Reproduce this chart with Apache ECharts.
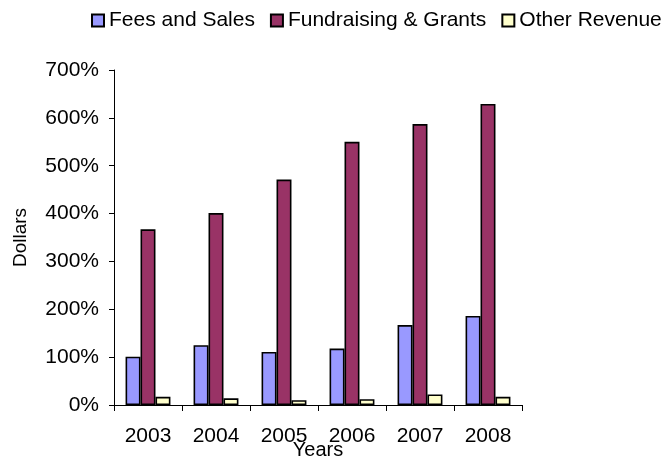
<!DOCTYPE html>
<html>
<head>
<meta charset="utf-8">
<script src="https://cdn.jsdelivr.net/npm/echarts@6/dist/echarts.min.js"></script>
<style>
  html, body { margin: 0; padding: 0; background: #fff; }
  #chart { width: 672px; height: 459px; }
</style>
</head>
<body>
<div id="chart"></div>
<script>
// Revenue sources by year, in percent
const years = ['2003', '2004', '2005', '2006', '2007', '2008'];
const feesAndSales = [101, 125, 111, 118, 167, 186];
const fundraisingGrants = [367, 401, 471, 550, 587, 629];
const otherRevenue = [17, 14, 10, 12, 22, 17];
const yTicks = { min: 0, max: 700, interval: 100 };

const font = 'Liberation Sans, Arial, sans-serif';

function barSeries(name, data, color) {
  return {
    name: name,
    type: 'bar',
    data: data,
    barGap: '0%',
    barCategoryGap: '34%',
    itemStyle: { color: color, borderColor: '#000', borderWidth: 1.6 },
    emphasis: { disabled: true }
  };
}

const chart = echarts.init(document.getElementById('chart'), null, { renderer: 'canvas' });
chart.setOption({
  animation: false,
  backgroundColor: '#fff',
  textStyle: { fontFamily: font, color: '#000' },
  legend: {
    left: 91,
    top: 10,
    padding: 0,
    itemWidth: 12,
    itemHeight: 12,
    itemGap: 15,
    icon: 'rect',
    textStyle: { fontFamily: font, fontSize: 21, color: '#000' },
    data: ['Fees and Sales', 'Fundraising & Grants', 'Other Revenue']
  },
  grid: {
    left: 114, right: 150, top: 70, bottom: 54,
    containLabel: false,
    outerBoundsMode: 'none'
  },
  xAxis: {
    type: 'category',
    data: years,
    name: 'Years',
    nameLocation: 'middle',
    nameGap: 35,
    nameMoveOverlap: false,
    nameTextStyle: { fontFamily: font, fontSize: 20, color: '#000' },
    axisLine: { lineStyle: { color: '#000', width: 1 } },
    axisTick: { show: true, length: 6, lineStyle: { color: '#000' } },
    axisLabel: { fontFamily: font, fontSize: 21, color: '#000', margin: 21 }
  },
  yAxis: {
    type: 'value',
    min: yTicks.min,
    max: yTicks.max,
    interval: yTicks.interval,
    name: 'Dollars',
    nameLocation: 'middle',
    nameGap: 84,
    nameMoveOverlap: false,
    nameTextStyle: { fontFamily: font, fontSize: 19, color: '#000' },
    axisLine: { show: true, lineStyle: { color: '#000', width: 1 } },
    axisTick: { show: true, length: 5, lineStyle: { color: '#000' } },
    splitLine: { show: false },
    axisLabel: { fontFamily: font, fontSize: 21, color: '#000', margin: 15, formatter: '{value}%' }
  },
  series: [
    barSeries('Fees and Sales', feesAndSales, '#9999FF'),
    barSeries('Fundraising & Grants', fundraisingGrants, '#993366'),
    barSeries('Other Revenue', otherRevenue, '#FFFFCC')
  ]
});
</script>
</body>
</html>
